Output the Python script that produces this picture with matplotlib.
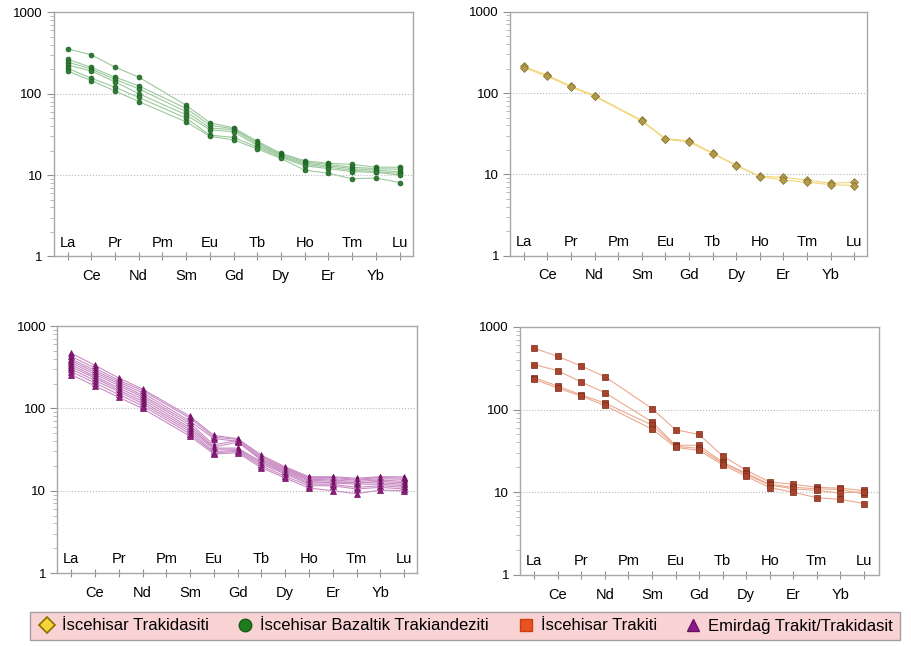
import numpy as np
import matplotlib.pyplot as plt
from matplotlib.lines import Line2D
from matplotlib.ticker import LogLocator, NullFormatter

plt.rcParams['font.family'] = ['Liberation Sans', 'DejaVu Sans']

# REE elements (Pm not measured, lines jump over it)
elements = ['La', 'Ce', 'Pr', 'Nd', 'Pm', 'Sm', 'Eu', 'Gd', 'Tb', 'Dy', 'Ho', 'Er', 'Tm', 'Yb', 'Lu']
measured = [e for e in elements if e != 'Pm']

# İscehisar Bazaltik Trakiandeziti (green)
green_samples = [
    [357, 300, 212, 160, 72, 44, 38, 26, 18.5, 15.0, 14.0, 13.5, 12.5, 12.5],
    [265, 210, 160, 125, 66, 41, 37, 25, 18.0, 14.5, 13.5, 12.5, 12.0, 11.8],
    [245, 200, 150, 115, 60, 38, 36, 24, 17.5, 14.0, 13.0, 12.0, 11.5, 11.0],
    [225, 190, 140, 100, 55, 36, 34, 23, 17.0, 13.5, 12.5, 11.5, 11.0, 10.5],
    [205, 155, 120, 90, 50, 31, 29, 22, 16.5, 13.0, 12.0, 11.0, 10.8, 10.0],
    [190, 145, 108, 80, 45, 30, 27, 21, 16.0, 11.5, 10.5, 9.0, 9.2, 8.1],
]

# İscehisar Trakidasiti (yellow)
yellow_samples = [
    [212, 165, 122, 93, 46, 27.5, 26, 18.3, 13.0, 9.5, 9.2, 8.5, 7.8, 8.0],
    [205, 160, 118, 91, 45, 27.0, 25, 18.0, 12.8, 9.4, 8.5, 8.0, 7.5, 7.3],
]

# Emirdağ Trakit/Trakidasit (purple)
purple_samples = [
    [470, 335, 235, 172, 80, 47, 43, 27.0, 19.5, 14.8, 14.8, 14.2, 14.8, 14.8],
    [430, 310, 220, 165, 76, 45, 42, 26.0, 19.0, 14.5, 14.5, 13.8, 14.5, 14.2],
    [400, 290, 210, 155, 70, 43, 40, 25.0, 18.5, 14.0, 14.0, 13.5, 14.0, 13.8],
    [380, 275, 200, 145, 66, 36, 41, 24.0, 18.0, 13.8, 13.5, 13.0, 13.5, 13.0],
    [360, 260, 190, 138, 62, 34, 39, 23.5, 17.5, 13.5, 13.0, 12.5, 13.0, 12.5],
    [340, 245, 178, 130, 58, 33, 33, 22.5, 17.0, 13.0, 12.5, 12.5, 12.5, 12.0],
    [320, 235, 168, 122, 55, 32, 32, 22.0, 16.5, 12.5, 12.5, 12.0, 12.0, 11.5],
    [300, 220, 160, 115, 52, 30, 31, 21.0, 16.0, 12.0, 12.0, 11.0, 11.5, 11.0],
    [280, 205, 148, 108, 49, 29, 30, 20.0, 15.0, 11.5, 11.5, 10.5, 11.0, 10.5],
    [258, 188, 137, 100, 46, 28, 29, 19.0, 14.3, 10.8, 10.0, 9.2, 10.2, 10.0],
]

# İscehisar Trakiti (orange)
orange_samples = [
    [550, 440, 335, 250, 103, 57, 50, 27.5, 18.5, 13.3, 12.5, 11.5, 11.2, 10.5],
    [350, 295, 215, 160, 71, 37, 37, 23.0, 17.0, 12.5, 11.5, 11.0, 10.8, 9.5],
    [243, 192, 150, 120, 65, 36, 34, 22.5, 16.5, 12.2, 11.0, 10.5, 9.8, 10.2],
    [232, 182, 145, 112, 58, 35, 32, 21.5, 15.6, 11.4, 10.0, 8.6, 8.2, 7.3],
]

legend_labels = ['İscehisar Trakidasiti', 'İscehisar Bazaltik Trakiandeziti',
                 'İscehisar Trakiti', 'Emirdağ Trakit/Trakidasit']


def draw_panel(ax, samples, line_color, marker, mfc, mec, ms, xlim=(-0.58, 14.55)):
    x = [elements.index(e) for e in measured]
    for s in samples:
        ax.plot(x, s, color=line_color, lw=0.8, marker=marker, ms=ms,
                mfc=mfc, mec=mec, mew=0.5, zorder=3)
    ax.set_yscale('log')
    ax.set_ylim(1, 1000)
    ax.set_xlim(*xlim)
    ax.set_yticks([1, 10, 100, 1000])
    ax.set_yticklabels(['1', '10', '100', '1000'])
    ax.yaxis.set_minor_locator(LogLocator(base=10, subs=np.arange(2, 10)))
    ax.yaxis.set_minor_formatter(NullFormatter())
    ax.set_xticks(range(len(elements)))
    ax.set_xticklabels([])
    ax.tick_params(axis='x', direction='inout', length=6, color='#909090')
    ax.tick_params(axis='y', which='major', direction='out', length=5,
                   color='#909090', labelsize=9.5, pad=3)
    ax.tick_params(axis='y', which='minor', direction='out', length=3, color='#b0b0b0')
    for sp in ax.spines.values():
        sp.set_color('#a8a8a8')
        sp.set_linewidth(1)
    for v in (10, 100):
        ax.axhline(v, color='#b8b8b8', ls=':', lw=0.8, zorder=1)
    trans = ax.get_xaxis_transform()
    for i, e in enumerate(elements):
        y = 0.057 if i % 2 == 0 else -0.08
        ax.text(i, y, e, transform=trans, ha='center', va='center', fontsize=10.5)


fig = plt.figure(figsize=(9.11, 6.46), dpi=100)
ax1 = fig.add_axes([0.059, 0.603, 0.394, 0.378])
ax2 = fig.add_axes([0.560, 0.604, 0.392, 0.378])
ax3 = fig.add_axes([0.063, 0.113, 0.395, 0.382])
ax4 = fig.add_axes([0.571, 0.110, 0.394, 0.384])

draw_panel(ax1, green_samples, '#9cc89c', 'o', '#2e7d32', '#1b5e20', 3.5)
draw_panel(ax2, yellow_samples, '#f2d77a', 'D', '#b39a4a', '#8a7530', 4)
draw_panel(ax3, purple_samples, '#c98cc4', '^', '#8e1b7e', '#6d1060', 4.5)
draw_panel(ax4, orange_samples, '#eba98f', 's', '#a8432c', '#7a2a18', 4, xlim=(-0.6, 14.65))

handles = [
    Line2D([0], [0], ls='none', marker='D', ms=8, mfc='#f7d33a', mec='#8a6d00', mew=1.2),
    Line2D([0], [0], ls='none', marker='o', ms=9, mfc='#1e7b1e', mec='#135c13'),
    Line2D([0], [0], ls='none', marker='s', ms=8.5, mfc='#e8531f', mec='#c8400f'),
    Line2D([0], [0], ls='none', marker='^', ms=9, mfc='#8b1a8b', mec='#6a106a'),
]
leg = fig.legend(handles, legend_labels, loc='center',
                 bbox_to_anchor=(22 / 911, 1 - 641 / 646, 886 / 911, 30 / 646),
                 mode='expand', ncol=4, frameon=True, fancybox=False,
                 facecolor='#f9d3d3', edgecolor='#a0a0a0', framealpha=1,
                 borderpad=0.4, handletextpad=0.3, handlelength=1.2,
                 prop={'size': 12})
leg.get_frame().set_linewidth(1)

fig.savefig('out.png', dpi=100)
